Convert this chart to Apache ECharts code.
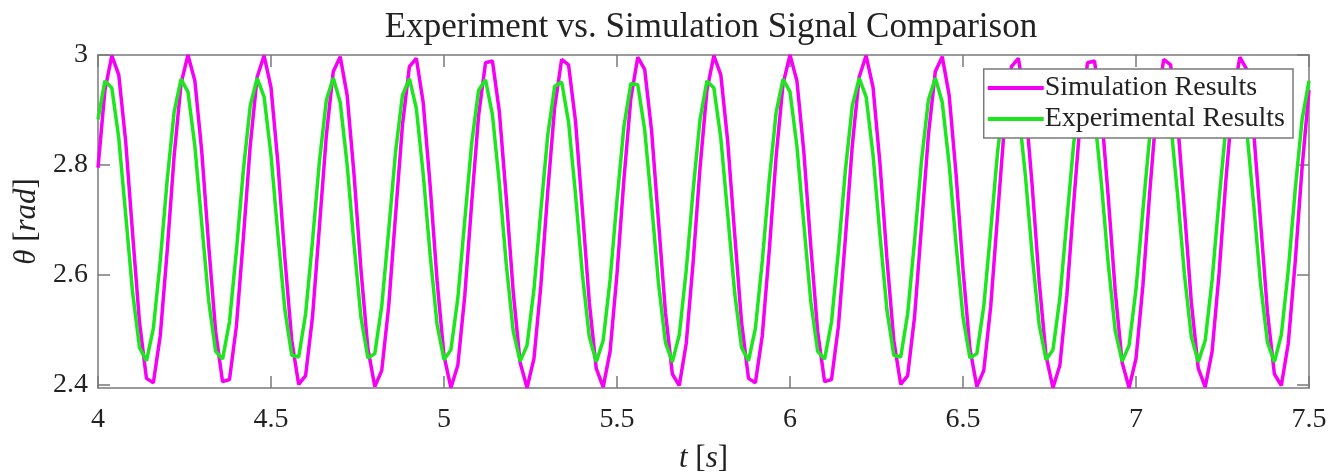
<!DOCTYPE html>
<html lang="en">
<head>
    <meta charset="UTF-8">
    <title>Experiment vs. Simulation Signal Comparison</title>
    <script src="https://cdn.jsdelivr.net/npm/echarts@6.0.0/dist/echarts.min.js"></script>
    <style>
        html, body { margin: 0; padding: 0; background: #fff; }
    </style>
</head>
<body>
    <div id="signal-chart" style="width: 1328px; height: 472px;"></div>
    <script>
        // sample times [s]
        const time = [
            4.00, 4.02, 4.04, 4.06, 4.08, 4.10, 4.12, 4.14, 4.16, 4.18, 4.20,
            4.22, 4.24, 4.26, 4.28, 4.30, 4.32, 4.34, 4.36, 4.38, 4.40, 4.42,
            4.44, 4.46, 4.48, 4.50, 4.52, 4.54, 4.56, 4.58, 4.60, 4.62, 4.64,
            4.66, 4.68, 4.70, 4.72, 4.74, 4.76, 4.78, 4.80, 4.82, 4.84, 4.86,
            4.88, 4.90, 4.92, 4.94, 4.96, 4.98, 5.00, 5.02, 5.04, 5.06, 5.08,
            5.10, 5.12, 5.14, 5.16, 5.18, 5.20, 5.22, 5.24, 5.26, 5.28, 5.30,
            5.32, 5.34, 5.36, 5.38, 5.40, 5.42, 5.44, 5.46, 5.48, 5.50, 5.52,
            5.54, 5.56, 5.58, 5.60, 5.62, 5.64, 5.66, 5.68, 5.70, 5.72, 5.74,
            5.76, 5.78, 5.80, 5.82, 5.84, 5.86, 5.88, 5.90, 5.92, 5.94, 5.96,
            5.98, 6.00, 6.02, 6.04, 6.06, 6.08, 6.10, 6.12, 6.14, 6.16, 6.18,
            6.20, 6.22, 6.24, 6.26, 6.28, 6.30, 6.32, 6.34, 6.36, 6.38, 6.40,
            6.42, 6.44, 6.46, 6.48, 6.50, 6.52, 6.54, 6.56, 6.58, 6.60, 6.62,
            6.64, 6.66, 6.68, 6.70, 6.72, 6.74, 6.76, 6.78, 6.80, 6.82, 6.84,
            6.86, 6.88, 6.90, 6.92, 6.94, 6.96, 6.98, 7.00, 7.02, 7.04, 7.06,
            7.08, 7.10, 7.12, 7.14, 7.16, 7.18, 7.20, 7.22, 7.24, 7.26, 7.28,
            7.30, 7.32, 7.34, 7.36, 7.38, 7.40, 7.42, 7.44, 7.46, 7.48, 7.50
        ];

        // theta [rad], simulation
        const simulation = [
            2.795, 2.936, 2.999, 2.964, 2.843, 2.675, 2.514, 2.412, 2.404, 2.490, 2.644,
            2.816, 2.948, 3.000, 2.953, 2.824, 2.653, 2.497, 2.406, 2.410, 2.507, 2.666,
            2.835, 2.960, 2.999, 2.941, 2.803, 2.631, 2.481, 2.401, 2.417, 2.524, 2.688,
            2.854, 2.970, 2.997, 2.927, 2.783, 2.610, 2.466, 2.397, 2.426, 2.542, 2.709,
            2.873, 2.979, 2.994, 2.913, 2.762, 2.590, 2.453, 2.395, 2.436, 2.562, 2.731,
            2.890, 2.986, 2.989, 2.897, 2.740, 2.570, 2.441, 2.395, 2.448, 2.581, 2.753,
            2.906, 2.992, 2.982, 2.880, 2.718, 2.550, 2.430, 2.396, 2.461, 2.602, 2.774,
            2.921, 2.996, 2.974, 2.862, 2.697, 2.532, 2.420, 2.399, 2.475, 2.623, 2.795,
            2.936, 2.999, 2.964, 2.843, 2.675, 2.514, 2.412, 2.404, 2.490, 2.644, 2.816,
            2.948, 3.000, 2.953, 2.824, 2.653, 2.497, 2.406, 2.410, 2.507, 2.666, 2.835,
            2.960, 2.999, 2.941, 2.803, 2.631, 2.481, 2.401, 2.417, 2.524, 2.688, 2.854,
            2.970, 2.997, 2.927, 2.783, 2.610, 2.466, 2.397, 2.426, 2.542, 2.709, 2.873,
            2.979, 2.994, 2.913, 2.762, 2.590, 2.453, 2.395, 2.436, 2.562, 2.731, 2.890,
            2.986, 2.989, 2.897, 2.740, 2.570, 2.441, 2.395, 2.448, 2.581, 2.753, 2.906,
            2.992, 2.982, 2.880, 2.718, 2.550, 2.430, 2.396, 2.461, 2.602, 2.774, 2.921,
            2.996, 2.974, 2.862, 2.697, 2.532, 2.420, 2.399, 2.475, 2.623, 2.795, 2.936
        ];

        // theta [rad], experiment
        const experimental = [
            2.883, 2.953, 2.940, 2.849, 2.710, 2.568, 2.468, 2.444, 2.503, 2.626, 2.773,
            2.896, 2.956, 2.933, 2.834, 2.692, 2.552, 2.461, 2.447, 2.515, 2.644, 2.790,
            2.908, 2.958, 2.924, 2.818, 2.673, 2.537, 2.454, 2.451, 2.529, 2.662, 2.807,
            2.918, 2.958, 2.914, 2.801, 2.655, 2.523, 2.449, 2.457, 2.543, 2.680, 2.824,
            2.927, 2.957, 2.903, 2.783, 2.636, 2.510, 2.446, 2.464, 2.558, 2.699, 2.840,
            2.936, 2.955, 2.891, 2.766, 2.619, 2.498, 2.443, 2.472, 2.574, 2.718, 2.855,
            2.943, 2.951, 2.878, 2.747, 2.601, 2.487, 2.442, 2.481, 2.591, 2.736, 2.870,
            2.948, 2.946, 2.864, 2.729, 2.584, 2.477, 2.442, 2.491, 2.608, 2.754, 2.883,
            2.953, 2.940, 2.849, 2.710, 2.568, 2.468, 2.444, 2.503, 2.626, 2.773, 2.896,
            2.956, 2.933, 2.834, 2.692, 2.552, 2.461, 2.447, 2.515, 2.644, 2.790, 2.908,
            2.958, 2.924, 2.818, 2.673, 2.537, 2.454, 2.451, 2.529, 2.662, 2.807, 2.918,
            2.958, 2.914, 2.801, 2.655, 2.523, 2.449, 2.457, 2.543, 2.680, 2.824, 2.927,
            2.957, 2.903, 2.783, 2.636, 2.510, 2.446, 2.464, 2.558, 2.699, 2.840, 2.936,
            2.955, 2.891, 2.766, 2.619, 2.498, 2.443, 2.472, 2.574, 2.718, 2.855, 2.943,
            2.951, 2.878, 2.747, 2.601, 2.487, 2.442, 2.481, 2.591, 2.736, 2.870, 2.948,
            2.946, 2.864, 2.729, 2.584, 2.477, 2.442, 2.491, 2.608, 2.754, 2.883, 2.953
        ];

        const yTicks = [2.4, 2.6, 2.8, 3];

        const FONT = 'Liberation Serif';
        const AXIS_GREY = '#7a7a7a';

        document.addEventListener('DOMContentLoaded', function () {
            const chartDom = document.getElementById('signal-chart');
            const myChart = echarts.init(chartDom, null, { renderer: 'canvas' });

            const simData = time.map((t, i) => [t, simulation[i]]);
            const expData = time.map((t, i) => [t, experimental[i]]);

            const axisLine = { show: true, onZero: false, lineStyle: { color: AXIS_GREY, width: 1.5 } };
            const tick = { show: true, inside: true, length: 12, lineStyle: { color: AXIS_GREY, width: 1.5 } };

            const option = {
                animation: false,
                backgroundColor: '#fff',
                title: {
                    text: 'Experiment vs. Simulation Signal Comparison',
                    left: 706,
                    top: 5,
                    textAlign: 'center',
                    textStyle: { fontFamily: FONT, fontSize: 35, fontWeight: 'normal', color: '#222' }
                },
                legend: {
                    orient: 'vertical',
                    right: 35,
                    top: 69,
                    icon: 'rect',
                    itemWidth: 56,
                    itemHeight: 4,
                    itemGap: 3,
                    padding: [5, 8, 5, 4],
                    backgroundColor: '#fff',
                    borderColor: AXIS_GREY,
                    borderWidth: 1.5,
                    borderRadius: 0,
                    textStyle: { fontFamily: FONT, fontSize: 28, color: '#222', padding: [0, 0, 0, -4] },
                    data: ['Simulation Results', 'Experimental Results']
                },
                grid: { left: 98, right: 19, top: 55, bottom: 84, outerBoundsMode: 'none' },
                xAxis: [{
                    type: 'value',
                    min: 4,
                    max: 7.5,
                    interval: 0.5,
                    position: 'bottom',
                    axisLine: axisLine,
                    axisTick: tick,
                    splitLine: { show: false },
                    axisLabel: { fontFamily: FONT, fontSize: 28, color: '#222', margin: 18 },
                    name: '{i|t} [{i|s}]',
                    nameLocation: 'middle',
                    nameGap: 55,
                    nameTextStyle: {
                        fontFamily: FONT, fontSize: 31, color: '#222',
                        rich: { i: { fontFamily: FONT, fontSize: 31, fontStyle: 'italic', color: '#222' } }
                    }
                }, {
                    type: 'value',
                    min: 4,
                    max: 7.5,
                    interval: 0.5,
                    position: 'top',
                    axisLine: axisLine,
                    axisTick: tick,
                    axisLabel: { show: false },
                    splitLine: { show: false }
                }],
                yAxis: [{
                    type: 'value',
                    min: 2.3945,
                    max: 3,
                    position: 'left',
                    axisLine: axisLine,
                    axisTick: Object.assign({ customValues: yTicks }, tick),
                    splitLine: { show: false },
                    axisLabel: {
                        customValues: yTicks,
                        fontFamily: FONT, fontSize: 28, color: '#222', margin: 10
                    },
                    name: '{i|θ} [{i|rad}]',
                    nameLocation: 'middle',
                    nameRotate: 90,
                    nameGap: 49,
                    nameTextStyle: {
                        fontFamily: FONT, fontSize: 31, color: '#222',
                        rich: { i: { fontFamily: FONT, fontSize: 31, fontStyle: 'italic', color: '#222' } }
                    }
                }, {
                    type: 'value',
                    min: 2.3945,
                    max: 3,
                    position: 'right',
                    axisLine: axisLine,
                    axisTick: Object.assign({ customValues: yTicks }, tick),
                    axisLabel: { show: false },
                    splitLine: { show: false }
                }],
                series: [{
                    name: 'Simulation Results',
                    type: 'line',
                    data: simData,
                    showSymbol: false,
                    symbol: 'none',
                    color: '#f500f5',
                    lineStyle: { color: '#f500f5', width: 3.5 }
                }, {
                    name: 'Experimental Results',
                    type: 'line',
                    data: expData,
                    showSymbol: false,
                    symbol: 'none',
                    color: '#1ee61e',
                    lineStyle: { color: '#1ee61e', width: 3.5 }
                }]
            };

            myChart.setOption(option);
        });
    </script>
</body>
</html>
